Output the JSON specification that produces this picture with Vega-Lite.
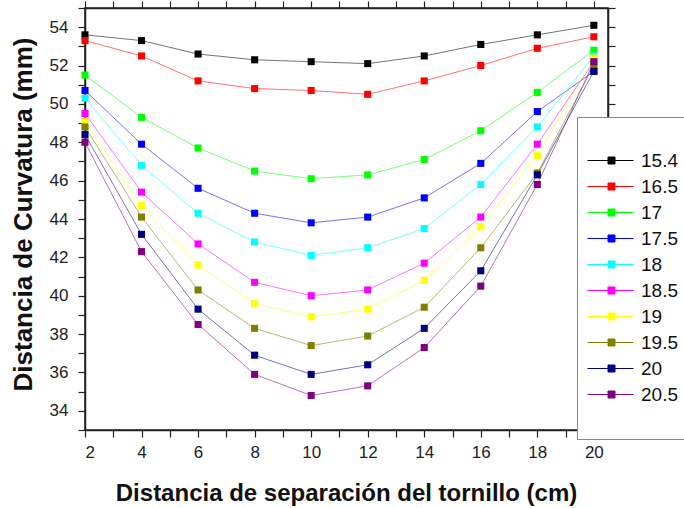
{
  "$schema": "https://vega.github.io/schema/vega-lite/v6.json",
  "width": 523,
  "height": 422,
  "autosize": {"type": "none"},
  "padding": {"left": 85, "top": 8, "right": 76, "bottom": 78},
  "background": "white",
  "config": {
    "font": "Liberation Sans",
    "view": {"stroke": "#222", "strokeWidth": 1.5},
    "axis": {"grid": false, "domainColor": "#222", "domainWidth": 1.5, "tickColor": "#222", "tickWidth": 1.2, "labelColor": "#222", "labelFontSize": 17, "labelFont": "Liberation Sans", "titleFont": "Liberation Sans"},
    "legend": {"labelFont": "Liberation Sans"}
  },
  "data": {"values": [
    {"s":"15.4","x":2,"y":53.6},{"s":"15.4","x":4,"y":53.3},{"s":"15.4","x":6,"y":52.6},{"s":"15.4","x":8,"y":52.3},{"s":"15.4","x":10,"y":52.2},{"s":"15.4","x":12,"y":52.1},{"s":"15.4","x":14,"y":52.5},{"s":"15.4","x":16,"y":53.1},{"s":"15.4","x":18,"y":53.6},{"s":"15.4","x":20,"y":54.1},
    {"s":"16.5","x":2,"y":53.3},{"s":"16.5","x":4,"y":52.5},{"s":"16.5","x":6,"y":51.2},{"s":"16.5","x":8,"y":50.8},{"s":"16.5","x":10,"y":50.7},{"s":"16.5","x":12,"y":50.5},{"s":"16.5","x":14,"y":51.2},{"s":"16.5","x":16,"y":52.0},{"s":"16.5","x":18,"y":52.9},{"s":"16.5","x":20,"y":53.5},
    {"s":"17","x":2,"y":51.5},{"s":"17","x":4,"y":49.3},{"s":"17","x":6,"y":47.7},{"s":"17","x":8,"y":46.5},{"s":"17","x":10,"y":46.1},{"s":"17","x":12,"y":46.3},{"s":"17","x":14,"y":47.1},{"s":"17","x":16,"y":48.6},{"s":"17","x":18,"y":50.6},{"s":"17","x":20,"y":52.8},
    {"s":"17.5","x":2,"y":50.7},{"s":"17.5","x":4,"y":47.9},{"s":"17.5","x":6,"y":45.6},{"s":"17.5","x":8,"y":44.3},{"s":"17.5","x":10,"y":43.8},{"s":"17.5","x":12,"y":44.1},{"s":"17.5","x":14,"y":45.1},{"s":"17.5","x":16,"y":46.9},{"s":"17.5","x":18,"y":49.6},{"s":"17.5","x":20,"y":51.7},
    {"s":"18","x":2,"y":50.3},{"s":"18","x":4,"y":46.8},{"s":"18","x":6,"y":44.3},{"s":"18","x":8,"y":42.8},{"s":"18","x":10,"y":42.1},{"s":"18","x":12,"y":42.5},{"s":"18","x":14,"y":43.5},{"s":"18","x":16,"y":45.8},{"s":"18","x":18,"y":48.8},{"s":"18","x":20,"y":52.5},
    {"s":"18.5","x":2,"y":49.5},{"s":"18.5","x":4,"y":45.4},{"s":"18.5","x":6,"y":42.7},{"s":"18.5","x":8,"y":40.7},{"s":"18.5","x":10,"y":40.0},{"s":"18.5","x":12,"y":40.3},{"s":"18.5","x":14,"y":41.7},{"s":"18.5","x":16,"y":44.1},{"s":"18.5","x":18,"y":47.9},{"s":"18.5","x":20,"y":52.2},
    {"s":"19","x":2,"y":49.1},{"s":"19","x":4,"y":44.7},{"s":"19","x":6,"y":41.6},{"s":"19","x":8,"y":39.6},{"s":"19","x":10,"y":38.9},{"s":"19","x":12,"y":39.3},{"s":"19","x":14,"y":40.8},{"s":"19","x":16,"y":43.6},{"s":"19","x":18,"y":47.3},{"s":"19","x":20,"y":52.4},
    {"s":"19.5","x":2,"y":48.8},{"s":"19.5","x":4,"y":44.1},{"s":"19.5","x":6,"y":40.3},{"s":"19.5","x":8,"y":38.3},{"s":"19.5","x":10,"y":37.4},{"s":"19.5","x":12,"y":37.9},{"s":"19.5","x":14,"y":39.4},{"s":"19.5","x":16,"y":42.5},{"s":"19.5","x":18,"y":46.4},{"s":"19.5","x":20,"y":52.0},
    {"s":"20","x":2,"y":48.4},{"s":"20","x":4,"y":43.2},{"s":"20","x":6,"y":39.3},{"s":"20","x":8,"y":36.9},{"s":"20","x":10,"y":35.9},{"s":"20","x":12,"y":36.4},{"s":"20","x":14,"y":38.3},{"s":"20","x":16,"y":41.3},{"s":"20","x":18,"y":46.3},{"s":"20","x":20,"y":51.7},
    {"s":"20.5","x":2,"y":48.0},{"s":"20.5","x":4,"y":42.3},{"s":"20.5","x":6,"y":38.5},{"s":"20.5","x":8,"y":35.9},{"s":"20.5","x":10,"y":34.8},{"s":"20.5","x":12,"y":35.3},{"s":"20.5","x":14,"y":37.3},{"s":"20.5","x":16,"y":40.5},{"s":"20.5","x":18,"y":45.8},{"s":"20.5","x":20,"y":52.2}
  ]},
  "encoding": {
    "color": {
      "field": "s", "type": "nominal",
      "scale": {
        "domain": ["15.4","16.5","17","17.5","18","18.5","19","19.5","20","20.5"],
        "range": ["#000000","#ff0000","#00ff00","#0000ff","#00ffff","#ff00ff","#ffff00","#808000","#000080","#800080"]
      },
      "legend": {
        "orient": "none", "legendX": 492, "legendY": 109, "title": null,
        "padding": 34, "rowPadding": 6,
        "labelFontSize": 19, "labelColor": "#111", "labelOffset": 11,
        "symbolSize": 100, "symbolStrokeWidth": 1, "symbolOpacity": 1,
        "symbolType": "M-6.6,0H-2.5M-2.5,-0.7H-1.1V0.7H-2.5ZM-1.1,0H2.6",
        "strokeColor": "#888", "fillColor": "white",
        "encode": {"symbols": {"update": {"fill": {"scale": "color", "field": "value"}, "stroke": {"scale": "color", "field": "value"}}}}
      }
    }
  },
  "layer": [
    {
      "mark": {"type": "line", "strokeWidth": 1, "opacity": 0.55},
      "encoding": {
        "x": {"field": "x", "type": "quantitative",
          "scale": {"domain": [2, 20.5], "nice": false, "zero": false},
          "axis": {"orient": "bottom", "values": [2,3,4,5,6,7,8,9,10,11,12,13,14,15,16,17,18,19,20],
            "labelExpr": "datum.value % 2 === 0 ? datum.label : ''", "labelOverlap": false,
            "tickSize": 7, "labelPadding": 7,
            "title": "Distancia de separación del tornillo (cm)", "titleFontSize": 24, "titleFontWeight": "bold", "titleColor": "#111",
            "titleX": 261, "titleY": 63, "titleBaseline": "middle", "titleAlign": "center",
            "encode": {"ticks": {"update": {"y2": {"signal": "datum.value % 2 === 0 ? 7 : 4"}}}}}},
        "y": {"field": "y", "type": "quantitative",
          "scale": {"domain": [33, 55], "nice": false, "zero": false},
          "axis": {"orient": "left", "values": [33,34,35,36,37,38,39,40,41,42,43,44,45,46,47,48,49,50,51,52,53,54,55],
            "labelExpr": "datum.value % 2 === 0 ? datum.label : ''", "labelOverlap": false,
            "tickSize": 7, "labelPadding": 10,
            "title": "Distancia de Curvatura (mm)", "titleFontSize": 26, "titleFontWeight": "bold", "titleColor": "#111",
            "titleX": -62, "titleY": 206, "titleAngle": -90, "titleBaseline": "middle", "titleAlign": "center",
            "encode": {"ticks": {"update": {"x2": {"signal": "datum.value % 2 === 0 ? -7 : -4"}}}}}}
      }
    },
    {
      "mark": {"type": "square", "size": 50, "opacity": 1, "filled": true},
      "encoding": {
        "x": {"field": "x", "type": "quantitative",
          "scale": {"domain": [2, 20.5], "nice": false, "zero": false},
          "axis": {"orient": "top", "values": [2,3,4,5,6,7,8,9,10,11,12,13,14,15,16,17,18,19,20],
            "labels": false, "title": null, "tickSize": 7,
            "encode": {"ticks": {"update": {"y2": {"signal": "datum.value % 2 === 0 ? 7 : 4"}}}}}},
        "y": {"field": "y", "type": "quantitative",
          "scale": {"domain": [33, 55], "nice": false, "zero": false},
          "axis": {"orient": "right", "values": [33,34,35,36,37,38,39,40,41,42,43,44,45,46,47,48,49,50,51,52,53,54,55],
            "labels": false, "title": null, "tickSize": 7,
            "encode": {"ticks": {"update": {"x2": {"signal": "datum.value % 2 === 0 ? -7 : -4"}}}}}}
      }
    }
  ],
  "resolve": {"axis": {"x": "independent", "y": "independent"}}
}
